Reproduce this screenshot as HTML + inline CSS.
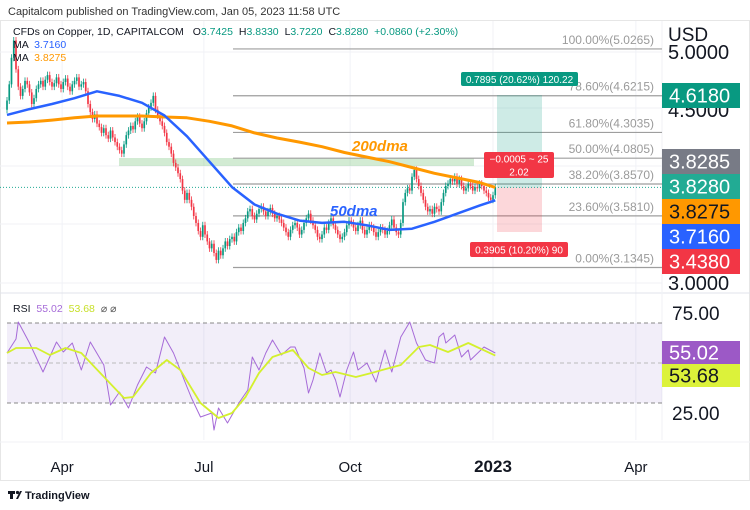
<!DOCTYPE html>
<html><head><meta charset="utf-8">
<style>
body{margin:0;background:#fff;font-family:"Liberation Sans",sans-serif;}
#wrap{position:relative;width:750px;height:510px;overflow:hidden;}
svg{position:absolute;left:0;top:0;}
</style></head>
<body>
<div id="wrap">
<svg id="c" width="750" height="510"></svg>
</div>
<script>
const closes=[4.58,4.72,4.95,5.10,4.85,4.70,4.62,4.68,4.75,4.72,
4.65,4.55,4.60,4.68,4.72,4.75,4.70,4.76,4.80,4.74,
4.70,4.73,4.78,4.72,4.68,4.74,4.77,4.70,4.66,4.72,
4.75,4.78,4.70,4.72,4.74,4.66,4.55,4.48,4.42,4.46,
4.38,4.35,4.30,4.34,4.28,4.25,4.32,4.26,4.22,4.18,
4.15,4.12,4.20,4.28,4.32,4.36,4.33,4.40,4.44,4.38,
4.34,4.40,4.47,4.52,4.56,4.62,4.50,4.45,4.40,4.36,
4.30,4.22,4.18,4.12,4.04,4.00,3.95,3.90,3.80,3.72,
3.78,3.72,3.66,3.58,3.52,3.45,3.40,3.50,3.42,3.36,
3.30,3.34,3.26,3.20,3.28,3.24,3.30,3.36,3.32,3.38,
3.40,3.36,3.44,3.48,3.45,3.52,3.56,3.62,3.64,3.58,
3.55,3.60,3.64,3.66,3.62,3.58,3.62,3.65,3.60,3.56,
3.58,3.55,3.52,3.48,3.44,3.40,3.46,3.50,3.52,3.48,
3.42,3.46,3.52,3.56,3.60,3.54,3.50,3.46,3.40,3.38,
3.42,3.48,3.46,3.52,3.56,3.50,3.46,3.42,3.38,3.40,
3.44,3.50,3.54,3.52,3.48,3.45,3.50,3.54,3.46,3.42,
3.46,3.50,3.48,3.44,3.40,3.44,3.48,3.46,3.42,3.45,
3.50,3.55,3.48,3.44,3.42,3.52,3.70,3.78,3.82,3.80,
3.92,3.98,3.90,3.84,3.78,3.72,3.66,3.62,3.64,3.60,
3.66,3.64,3.62,3.70,3.78,3.84,3.86,3.90,3.88,3.92,
3.86,3.90,3.84,3.80,3.82,3.86,3.84,3.80,3.83,3.82,
3.86,3.84,3.80,3.78,3.74,3.72,3.76,3.828];
const firstOpen=4.50;
const maIdx=[0,10,20,30,40,50,60,70,80,90,100,110,120,130,140,150,160,170,180,190,200,210,217];
const ma50=[4.455,4.506,4.55,4.60,4.66,4.62,4.56,4.45,4.27,4.05,3.83,3.68,3.60,3.54,3.52,3.53,3.50,3.46,3.47,3.53,3.60,3.67,3.716];
const ma200=[4.385,4.394,4.41,4.43,4.446,4.446,4.446,4.437,4.43,4.40,4.36,4.30,4.255,4.22,4.18,4.13,4.09,4.05,4.00,3.95,3.91,3.87,3.8275];
const rsiIdx=[0,4,5,10,16,22,25,29,33,37,43,46,50,54,58,62,66,70,74,80,82,86,91,92,94,98,103,107,109,112,115,118,122,126,128,132,134,136,139,142,144,146,148,151,154,156,160,164,168,171,175,179,182,186,190,192,194,195,199,202,205,206,212,217];
const rsiVal=[55,62,70.5,60,45.5,60.5,55.5,60,46.5,60.5,49,29,35.5,27.5,39,48,45,63,55,38,32.5,23,25,16.5,27.5,20,30,36.5,53,46.5,55,61.5,54,58,58,47.5,35,41.5,55,45,46.5,41.5,33,46.5,55.5,46.5,50,40.5,56.5,45.5,63,70.5,60,51.5,50,63,65,60,64,53,56.5,51.5,58,55.02];
const rsiMaIdx=[0,4,13,19,26,33,41,52,56,64,71,77,86,94,100,106,112,118,127,134,140,146,155,162,170,175,183,188,196,205,217];
const rsiMaVal=[55,57.5,57.5,54,57.5,55,45.5,32.5,33,45,51.5,46.5,30,22.5,25,33,45,53,56.5,47.5,44,45.5,43,45,47.5,49,58,59,55.5,60,53.68];
const fibPct=["100.00%","78.60%","61.80%","50.00%","38.20%","23.60%","0.00%"];
const fibPrice=[5.0265,4.6215,4.3035,4.0805,3.857,3.581,3.1345];
const priceTicks=[5.0,4.5,3.0];
const rsiTicks=[75,25];
const timeLabels=["Apr","Jul","Oct","2023","Apr"];
const timeIdx=[24.5,87.5,152.5,216,279.5];

const svg=document.getElementById('c');
const NS='http://www.w3.org/2000/svg';
function el(tag,attrs,parent){const e=document.createElementNS(NS,tag);for(const k in attrs)e.setAttribute(k,attrs[k]);(parent||svg).appendChild(e);return e;}
const X=i=>7+i*2.25;
const Y=p=>52+(5-p)*115.5;
const RY=v=>313+(75-v)*2;

let t=el('text',{x:8,y:15,'font-size':11,fill:'#333'});t.textContent='Capitalcom published on TradingView.com, Jan 05, 2023 11:58 UTC';


el('rect',{x:0.5,y:20.5,width:749,height:460,fill:'none',stroke:'#e6e6e6'});
timeIdx.forEach((ti,k)=>{const l=el('line',{x1:X(ti),x2:X(ti),y1:21,y2:440,stroke:'#f0f2f6'});

});
[52,108,166,224,283].forEach(y=>{const l=el('line',{x1:0,x2:662,y1:y,y2:y,stroke:'#f0f2f6'});

});
el('line',{x1:0,x2:750,y1:293,y2:293,stroke:'#e0e3eb'});
el('line',{x1:662,x2:662,y1:21,y2:440,stroke:'#f0f2f6'});
el('line',{x1:0,x2:750,y1:442,y2:442,stroke:'#f0f2f6'});

let z=el('rect',{x:119,y:158,width:355,height:8,fill:'rgba(76,175,80,0.25)'});



fibPrice.forEach((p,k)=>{const y=Y(p);
const l=el('line',{x1:233,x2:662,y1:y,y2:y,stroke:'#9e9e9e','stroke-width':1.2});


const tx=el('text',{x:654,y:y-5,'font-size':12,fill:'#9a9a9a','text-anchor':'end'});tx.textContent=fibPct[k]+'('+p.toFixed(4)+')';

});

el('rect',{x:497,y:95,width:45,height:Y(3.828)-95,fill:'rgba(8,153,129,0.2)'});
el('rect',{x:497,y:Y(3.828),width:45,height:232-Y(3.828),fill:'rgba(242,54,69,0.2)'});
function badge(x,y,w,h,bg,lines,fs,name){const g=el('g',{});
el('rect',{x:x,y:y,width:w,height:h,rx:2,fill:bg},g);
lines.forEach((s,i)=>{const tt=el('text',{x:x+w/2,y:y+(i+1)*(h/lines.length)-(h/lines.length-fs)/2-1,'font-size':fs,fill:'#fff','text-anchor':'middle'},g);tt.textContent=s;});}
badge(461,72,117,14,'#089981',['0.7895 (20.62%) 120.22'],10,'target-label');
badge(484,152,70,26,'#f23645',['\u22120.0005 ~ 25','2.02'],10,'position-label');
badge(470,242,98,15,'#f23645',['0.3905 (10.20%) 90'],10,'stop-label');

el('line',{x1:0,x2:662,y1:Y(3.828),y2:Y(3.828),stroke:'#22ab94','stroke-dasharray':'1,2'});

let prev=firstOpen;
closes.forEach((c,i)=>{const o=prev;prev=c;const up=c>=o;const col=up?'#089981':'#f23645';
const hi=Math.max(o,c)+0.03,lo=Math.min(o,c)-0.03;
const g=el('g',{});


el('line',{x1:X(i),x2:X(i),y1:Y(hi),y2:Y(lo),stroke:col,'stroke-width':0.8},g);
const top=Y(Math.max(o,c));el('rect',{x:X(i)-0.85,y:top,width:1.7,height:Math.max(1,Y(Math.min(o,c))-top),fill:col},g);});

function poly(idx,vals,fy,col,w,name){const d=idx.map((ii,k)=>(k?'L':'M')+X(ii).toFixed(1)+','+fy(vals[k]).toFixed(1)).join(' ');
const p=el('path',{d:d,fill:'none',stroke:col,'stroke-width':w,'stroke-linejoin':'round'});

}
poly(maIdx,ma200,Y,'#ff9800',3,'ma200-line');
poly(maIdx,ma50,Y,'#2962ff',2.5,'ma50-line');

t=el('text',{x:352,y:151,'font-size':15,'font-weight':'bold','font-style':'italic',fill:'#ff9800'});t.textContent='200dma';


t=el('text',{x:330,y:216,'font-size':15,'font-weight':'bold','font-style':'italic',fill:'#2962ff'});t.textContent='50dma';



el('rect',{x:7,y:RY(70),width:655,height:RY(30)-RY(70),fill:'rgba(126,87,194,0.1)'});
[70,50,30].forEach(v=>{const l=el('line',{x1:7,x2:662,y1:RY(v),y2:RY(v),stroke:v==50?'#bbb':'#888','stroke-dasharray':'4,3'});

});
poly(rsiIdx,rsiVal,RY,'#a66bd8',1,'rsi-line');
poly(rsiMaIdx,rsiMaVal,RY,'#d4f02e',1.8,'rsi-ma-line');

t=el('text',{x:668,y:41,'font-size':19,fill:'#131722'});t.textContent='USD';


priceTicks.forEach(p=>{const tt=el('text',{x:668,y:Y(p)+7,'font-size':20,fill:'#131722'});tt.textContent=p.toFixed(4);

});
function axisBadge(y,h,bg,fg,txt,name){const g=el('g',{});
el('rect',{x:662,y:y,width:78,height:h,fill:bg},g);
const tt=el('text',{x:669,y:y+h/2+7,'font-size':20,fill:fg},g);tt.textContent=txt;}
axisBadge(83,25,'#089981','#fff','4.6180','target-price-badge');
axisBadge(149,25,'#787b86','#fff','3.8285','position-price-badge');
axisBadge(174,25,'#22ab94','#fff','3.8280','last-price-badge');
axisBadge(199,25,'#ff9800','#131722','3.8275','ma200-badge');
axisBadge(224,25,'#2962ff','#fff','3.7160','ma50-badge');
axisBadge(249,25,'#f23645','#fff','3.4380','stop-price-badge');
rsiTicks.forEach(v=>{const tt=el('text',{x:672,y:RY(v)+7,'font-size':19,fill:'#131722'});tt.textContent=v.toFixed(2);

});
axisBadge(341,23,'#9c59c6','#fff','55.02','rsi-badge');
axisBadge(364,23,'#dcf23a','#131722','53.68','rsi-ma-badge');

timeLabels.forEach((s,k)=>{const tt=el('text',{x:X(timeIdx[k]),y:472,'font-size':s=='2023'?17:15,'font-weight':s=='2023'?'bold':'normal',fill:'#131722','text-anchor':'middle'});tt.textContent=s;

});

const lg=el('text',{x:13,y:35,'font-size':10.5,fill:'#131722'});


lg.innerHTML='CFDs on Copper, 1D, CAPITALCOM <tspan dx="6">O</tspan><tspan fill="#089981">3.7425</tspan> <tspan dx="3">H</tspan><tspan fill="#089981">3.8330</tspan> <tspan dx="3">L</tspan><tspan fill="#089981">3.7220</tspan> <tspan dx="3">C</tspan><tspan fill="#089981">3.8280 <tspan dx="3">+0.0860 (+2.30%)</tspan></tspan>';
t=el('text',{x:13,y:48,'font-size':10.5,fill:'#131722'});t.innerHTML='MA <tspan fill="#2962ff" dx="3">3.7160</tspan>';


t=el('text',{x:13,y:61,'font-size':10.5,fill:'#131722'});t.innerHTML='MA <tspan fill="#ff9800" dx="3">3.8275</tspan>';


t=el('text',{x:13,y:312,'font-size':10.5,fill:'#131722'});t.innerHTML='RSI <tspan fill="#a66bd8" dx="3">55.02</tspan> <tspan fill="#c8e02a" dx="3">53.68</tspan> <tspan fill="#555" dx="3">\u2300 \u2300</tspan>';



const fg=el('g',{});


el('rect',{x:8,y:491,width:7,height:3,fill:'#131722'},fg);
el('rect',{x:10,y:491,width:3,height:8,fill:'#131722'},fg);
el('circle',{cx:17.5,cy:492.5,r:1.6,fill:'#131722'},fg);
el('path',{d:'M16 499 L20 491 L22 491 L18 499 Z',fill:'#131722'},fg);
t=el('text',{x:25,y:499,'font-size':11,'font-weight':'bold',fill:'#131722'},fg);t.textContent='TradingView';
</script>
</body></html>
